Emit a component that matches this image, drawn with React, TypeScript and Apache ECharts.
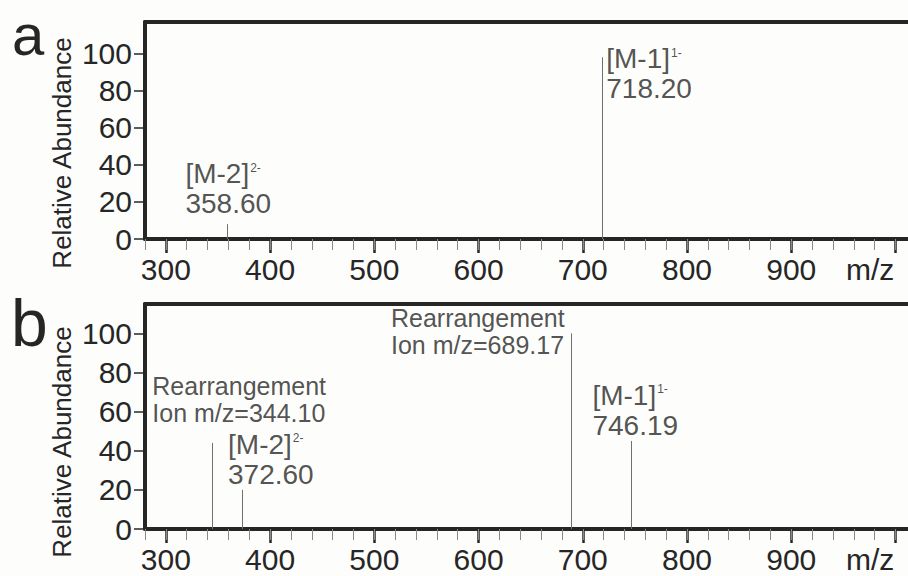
import React, { useEffect, useRef } from "react";
import * as echarts from "echarts";

// ---- data ----
const xTickLabels = [300, 400, 500, 600, 700, 800, 900];
const xMajorTicks = [300, 400, 500, 600, 700, 800, 900, 1000];
const yTicks = [0, 20, 40, 60, 80, 100];

const panelAMz = [358.6, 718.2];
const panelAAbundance = [8, 98];
const panelALabels = [
  "{m|[M-2]}{s|2-}\n{m|358.60}",
  "{m|[M-1]}{s|1-}\n{m|718.20}",
];

const panelBMz = [344.1, 372.6, 689.17, 746.19];
const panelBAbundance = [44, 20, 100, 45];
const panelBLabels = [
  "{r|Rearrangement}\n{r|Ion m/z=344.10}",
  "{m|[M-2]}{s|2-}\n{m|372.60}",
  "{r|Rearrangement}\n{r|Ion m/z=689.17}",
  "{m|[M-1]}{s|1-}\n{m|746.19}",
];

// label offsets (styling) relative to peak tops
const panelAOffsets = [
  [-41, -5],
  [5, 47],
];
const panelBOffsets = [
  [-59, -16],
  [-13, 0],
  [-180, 26],
  [-38, 0],
];

const FONT = "'Liberation Sans', Arial, Helvetica, sans-serif";
const INK = "#262626";

const rich = {
  m: { fontSize: 28, lineHeight: 30, color: INK, fontFamily: FONT },
  s: { fontSize: 12, lineHeight: 12, color: INK, fontFamily: FONT, verticalAlign: "top", padding: [3, 0, 0, 1] },
  r: { fontSize: 25, lineHeight: 27, color: INK, fontFamily: FONT },
};

function App() {
  const ref = useRef<HTMLDivElement>(null);

  useEffect(() => {
    if (!ref.current) return;
    const chart = echarts.init(ref.current, undefined, { renderer: "svg" });

    const grids = [
      { left: 145, top: 22, right: 0, bottom: 337 },
      { left: 145, top: 304, right: 0, bottom: 47 },
    ];
    const yMax = [117, 115];

    const xAxes: any[] = [];
    const yAxes: any[] = [];
    grids.forEach((_, gi) => {
      xAxes.push({
        gridIndex: gi,
        type: "value",
        min: 280,
        max: 1012,
        position: "bottom",
        axisLine: { show: true, onZero: false, lineStyle: { color: INK, width: 4 } },
        axisTick: { show: true, customValues: xMajorTicks, length: 14, lineStyle: { color: INK, width: 2.5 } },
        axisLabel: { show: true, customValues: xTickLabels, fontSize: 30, margin: 15, color: INK, fontFamily: FONT },
        splitLine: { show: false },
      });
      xAxes.push({
        gridIndex: gi,
        type: "value",
        min: 280,
        max: 1012,
        interval: 20,
        position: "bottom",
        axisLine: { show: false },
        axisTick: { show: true, length: 11, lineStyle: { color: "#8a8a8a", width: 1 } },
        axisLabel: { show: false },
        splitLine: { show: false },
      });
      xAxes.push({
        gridIndex: gi,
        type: "value",
        min: 280,
        max: 1012,
        position: "top",
        axisLine: { show: true, onZero: false, lineStyle: { color: INK, width: 4 } },
        axisTick: { show: false },
        axisLabel: { show: false },
        splitLine: { show: false },
      });
      yAxes.push({
        gridIndex: gi,
        type: "value",
        min: 0,
        max: yMax[gi],
        axisLine: { show: true, onZero: false, lineStyle: { color: INK, width: 4 } },
        axisTick: { show: true, customValues: yTicks, length: 11, lineStyle: { color: INK, width: 1.5 } },
        axisLabel: { show: true, customValues: yTicks, fontSize: 30, margin: 13, color: INK, fontFamily: FONT },
        splitLine: { show: false },
      });
    });

    const stick = (params: any, api: any) => {
      const p0 = api.coord([api.value(0), 0]);
      const p1 = api.coord([api.value(0), api.value(1)]);
      const x = Math.round(p0[0]) + 0.5;
      return {
        type: "line",
        shape: { x1: x, y1: p0[1], x2: x, y2: p1[1] },
        style: { stroke: "#707070", lineWidth: 1 },
      };
    };

    const makeSeries = (mz: number[], ab: number[], labels: string[], offsets: number[][], xi: number, yi: number) => [
      {
        type: "custom",
        xAxisIndex: xi,
        yAxisIndex: yi,
        renderItem: stick,
        data: mz.map((m, i) => [m, ab[i]]),
        silent: true,
        z: 3,
      },
      {
        type: "scatter",
        xAxisIndex: xi,
        yAxisIndex: yi,
        symbolSize: 1,
        itemStyle: { color: "rgba(0,0,0,0)" },
        silent: true,
        z: 4,
        data: mz.map((m, i) => ({
          value: [m, ab[i]],
          label: {
            show: true,
            position: offsets[i],
            align: "left",
            verticalAlign: "bottom",
            formatter: labels[i],
            rich,
          },
        })),
      },
    ];

    chart.setOption({
      animation: false,
      backgroundColor: "#fdfdfb",
      grid: grids,
      xAxis: xAxes,
      yAxis: yAxes,
      series: [
        ...makeSeries(panelAMz, panelAAbundance, panelALabels, panelAOffsets, 0, 0),
        ...makeSeries(panelBMz, panelBAbundance, panelBLabels, panelBOffsets, 3, 1),
      ],
      graphic: [
        { type: "text", x: 12, y: 34, style: { text: "a", fontSize: 58, lineHeight: 58, fill: INK, fontFamily: FONT, verticalAlign: "middle" } },
        { type: "text", x: 11, y: 323, style: { text: "b", fontSize: 66, lineHeight: 64, fill: INK, fontFamily: FONT, verticalAlign: "middle" } },
        { type: "text", x: 62, y: 153, rotation: Math.PI / 2, style: { text: "Relative Abundance", fontSize: 26, fill: INK, fontFamily: FONT, align: "center", verticalAlign: "middle" } },
        { type: "text", x: 62, y: 442, rotation: Math.PI / 2, style: { text: "Relative Abundance", fontSize: 26, fill: INK, fontFamily: FONT, align: "center", verticalAlign: "middle" } },
        { type: "text", x: 846, y: 254, style: { text: "m/z", fontSize: 30, fill: INK, fontFamily: FONT, verticalAlign: "top" } },
        { type: "text", x: 846, y: 544, style: { text: "m/z", fontSize: 30, fill: INK, fontFamily: FONT, verticalAlign: "top" } },
      ],
    });

    return () => chart.dispose();
  }, []);

  return <div ref={ref} style={{ position: "absolute", left: 0, top: 0, width: 908, height: 576 }} />;
}

export default App;
